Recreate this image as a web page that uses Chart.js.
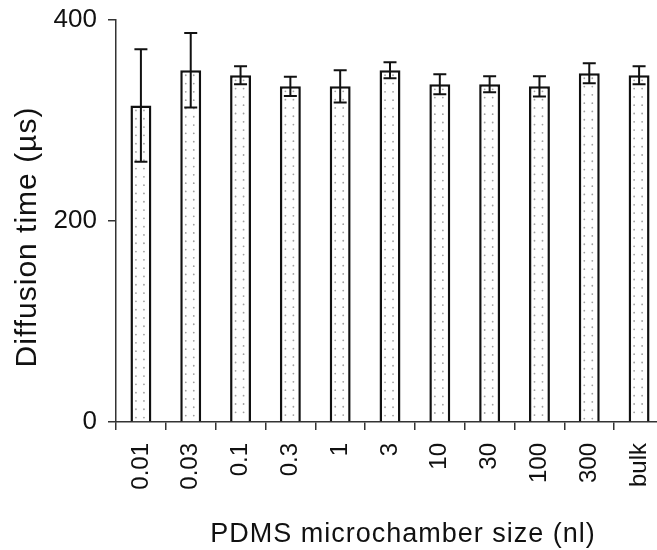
<!DOCTYPE html>
<html><head><meta charset="utf-8">
<script src="https://cdn.jsdelivr.net/npm/chart.js@4.4.0/dist/chart.umd.min.js"></script>
<style>
html,body{margin:0;padding:0;overflow:hidden;background:#fff;width:657px;height:550px}
#wrap{position:relative;width:664px;height:550px}
canvas{display:block}
</style>
</head><body><div id="wrap"><canvas id="c" width="664" height="550" style="width:664px;height:550px"></canvas></div>
<script>
const categories = ['0.01', '0.03', '0.1', '0.3', '1', '3', '10', '30', '100', '300', 'bulk'];
const diffusionTime = [315, 350, 345, 334, 334, 350, 336, 336, 334, 347, 345];
const errorValues = [56, 37, 9, 9.5, 16, 8, 10, 8, 10, 10, 9];
const yTickValues = [0, 200, 400];
const xTitle = 'PDMS microchamber size (nl)';
const yTitle = 'Diffusion time (µs)';

const FONT = '"Liberation Sans", Arial, Helvetica, sans-serif';
const INK = '#111';

const dotsPlugin = {
  id: 'dots',
  afterDatasetsDraw(chart) {
    const ctx = chart.ctx;
    const meta = chart.getDatasetMeta(0);
    ctx.save();
    ctx.fillStyle = '#a0a0a0';
    meta.data.forEach(bar => {
      const p = bar.getProps(['x', 'y', 'base', 'width'], true);
      const left = p.x - p.width / 2;
      for (let yy = p.y + 5; yy < p.base - 2; yy += 8.3) {
        [5.5, 13.5].forEach(dx => {
          ctx.beginPath();
          ctx.arc(left + dx, yy, 0.9, 0, Math.PI * 2);
          ctx.fill();
        });
      }
    });
    ctx.restore();
  }
};

const errorPlugin = {
  id: 'errs',
  afterDatasetsDraw(chart) {
    const ctx = chart.ctx, ys = chart.scales.y, xs = chart.scales.x;
    ctx.save();
    ctx.strokeStyle = INK;
    ctx.lineWidth = 2;
    diffusionTime.forEach((v, i) => {
      const x = xs.getPixelForValue(i);
      const top = ys.getPixelForValue(v + errorValues[i]);
      const bot = ys.getPixelForValue(v - errorValues[i]);
      ctx.beginPath();
      ctx.moveTo(x, top); ctx.lineTo(x, bot);
      ctx.moveTo(x - 6.5, top); ctx.lineTo(x + 6.5, top);
      ctx.moveTo(x - 6.5, bot); ctx.lineTo(x + 6.5, bot);
      ctx.stroke();
    });
    ctx.restore();
  }
};

const titlesPlugin = {
  id: 'titles',
  afterDraw(chart) {
    const ctx = chart.ctx, a = chart.chartArea;
    ctx.save();
    ctx.fillStyle = INK;
    ctx.textAlign = 'center';
    ctx.textBaseline = 'alphabetic';
    // x-axis title
    ctx.font = '27px ' + FONT;
    ctx.letterSpacing = '1px';
    ctx.fillText(xTitle, (a.left + a.right) / 2 + 13, 542);
    // y-axis title
    ctx.font = '30px ' + FONT;
    ctx.letterSpacing = '1px';
    ctx.translate(36, (a.top + a.bottom) / 2 + 16);
    ctx.rotate(-Math.PI / 2);
    ctx.fillText(yTitle, 0, 0);
    ctx.restore();
  }
};

new Chart(document.getElementById('c'), {
  type: 'bar',
  data: {
    labels: categories,
    datasets: [{
      data: diffusionTime,
      backgroundColor: '#fff',
      borderColor: INK,
      borderWidth: 2.5,
      barPercentage: 0.42,
      categoryPercentage: 1.0
    }]
  },
  options: {
    responsive: false,
    animation: false,
    devicePixelRatio: 1,
    layout: { padding: { top: 20, right: 0, left: 0, bottom: 0 } },
    plugins: { legend: { display: false }, tooltip: { enabled: false }, title: { display: false } },
    scales: {
      x: {
        grid: { drawOnChartArea: false, drawTicks: true, tickLength: 8, color: '#333', lineWidth: 1.5, offset: true },
        border: { display: true, color: '#333', width: 1.5 },
        ticks: { color: INK, font: { family: FONT, size: 24 }, minRotation: 90, maxRotation: 90, padding: 13, autoSkip: false },
        afterFit(s) { s.height = 128; s.paddingLeft = 0; s.paddingRight = 0; }
      },
      y: {
        min: 0, max: 400,
        afterBuildTicks(s) { s.ticks = yTickValues.map(v => ({ value: v })); },
        grid: { drawOnChartArea: false, drawTicks: true, tickLength: 8, color: '#333', lineWidth: 1.5 },
        border: { display: true, color: '#333', width: 1.5 },
        ticks: { color: INK, font: { family: FONT, size: 26 }, padding: 11 },
        afterFit(s) { s.width = 116; s.paddingTop = 0; s.paddingBottom = 0; }
      }
    }
  },
  plugins: [dotsPlugin, errorPlugin, titlesPlugin]
});
</script>
</body></html>
